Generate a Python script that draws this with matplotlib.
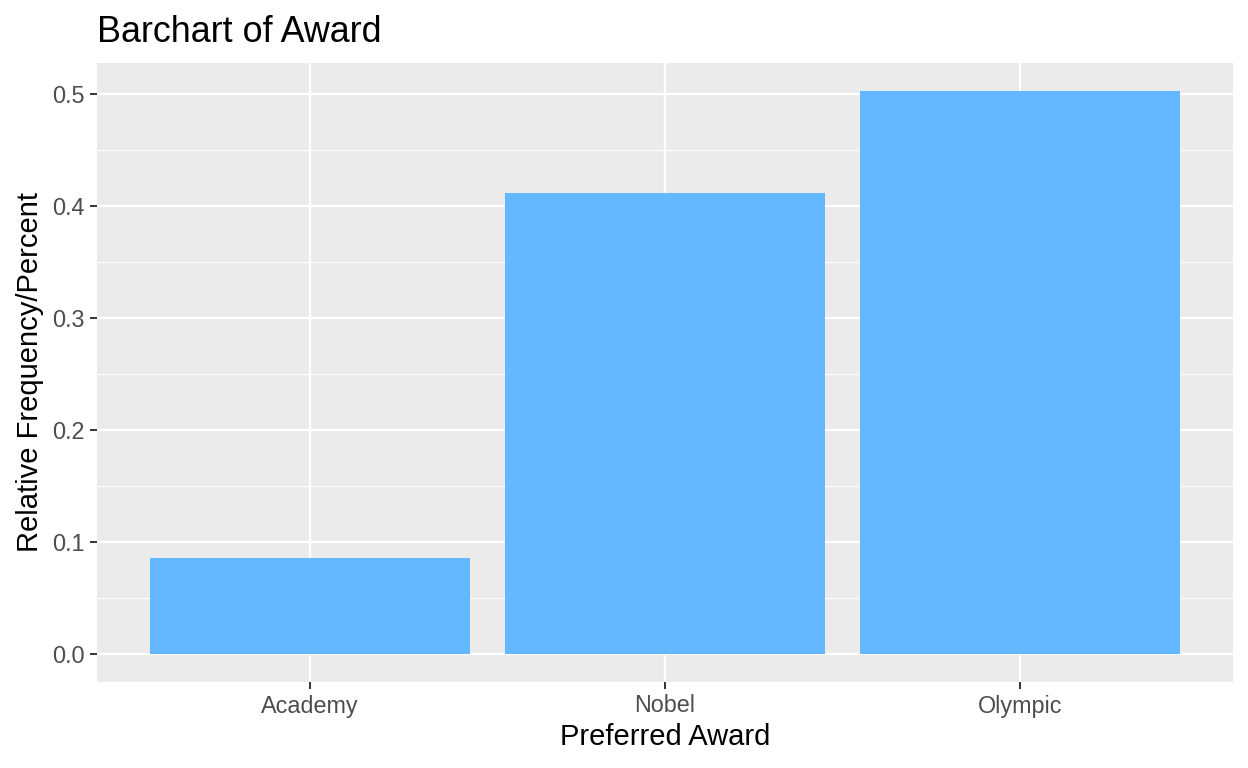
import matplotlib
matplotlib.use("Agg")
import matplotlib.pyplot as plt
from matplotlib.ticker import MultipleLocator

categories = ["Academy", "Nobel", "Olympic"]
rel_freq = [0.0857, 0.4116, 0.5027]
yticks = [0.0, 0.1, 0.2, 0.3, 0.4, 0.5]
ytick_labels = ["0.0", "0.1", "0.2", "0.3", "0.4", "0.5"]

plt.rcParams['font.family'] = ['Liberation Sans', 'DejaVu Sans']

fig = plt.figure(figsize=(12.48, 7.68), dpi=100)
W, H = 1248, 768
ax = fig.add_axes([97 / W, (H - 682) / H, (1233 - 97) / W, (682 - 63) / H])
ax.set_facecolor("#EBEBEB")

x = list(range(1, len(categories) + 1))
ax.bar(x, rel_freq, width=0.9, color="#63B8FF", zorder=3)

ymax = max(rel_freq)
ax.set_xlim(0.4, len(categories) + 0.6)
ax.set_ylim(-0.05 * ymax, ymax * 1.05)

ax.set_yticks(yticks)
ax.set_yticklabels(ytick_labels)
ax.yaxis.set_minor_locator(MultipleLocator(0.05))
ax.set_xticks(x)
ax.set_xticklabels(categories)

ax.grid(which="major", color="white", linewidth=1.6, zorder=1)
ax.grid(which="minor", axis="y", color="white", linewidth=0.8, zorder=1)
ax.set_axisbelow(True)
for s in ax.spines.values():
    s.set_visible(False)

ax.tick_params(axis="both", which="major", length=5, width=1.4, color="#333333",
               labelcolor="#4D4D4D", labelsize=16.8, pad=4)
ax.tick_params(axis="y", which="minor", length=0)

ax.set_xlabel("Preferred Award", fontsize=21, color="black", labelpad=4)
ax.set_ylabel("Relative Frequency/Percent", fontsize=21, color="black", labelpad=6)
ax.set_title("Barchart of Award", fontsize=25.8, color="black", loc="left", pad=15, x=0)

fig.savefig("out.png", dpi=100)
